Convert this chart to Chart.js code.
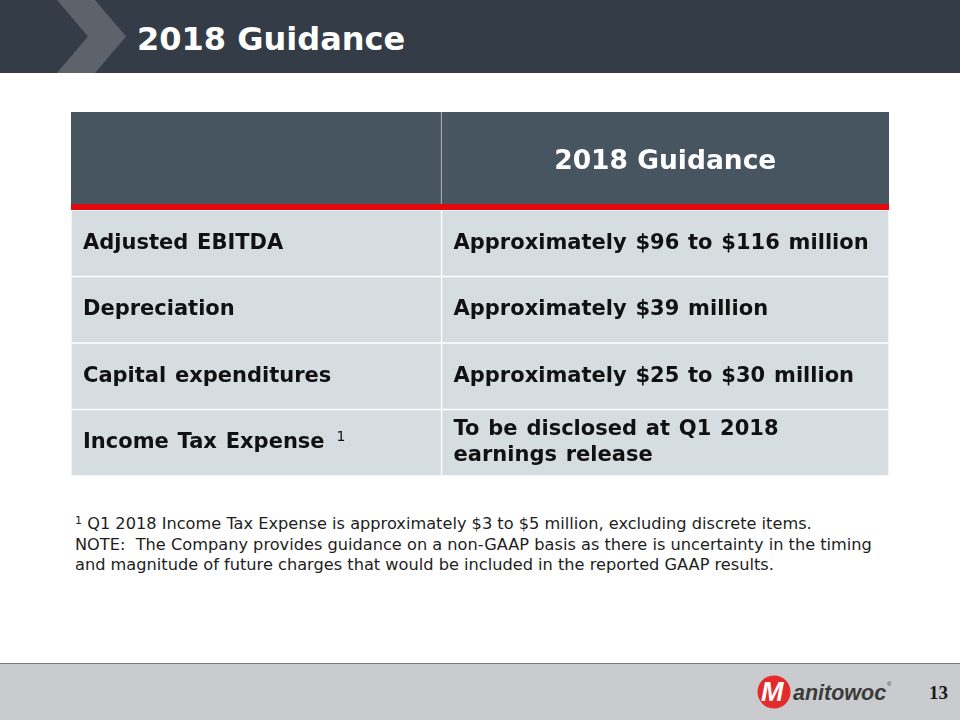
<!DOCTYPE html>
<html>
<head>
<meta charset="utf-8">
<script src="https://cdn.jsdelivr.net/npm/chart.js@4"></script>
<style>
  html, body { margin: 0; padding: 0; background: #ffffff; }
  #slide { position: relative; width: 960px; height: 720px; overflow: hidden; background: #ffffff; font-family: "DejaVu Sans", Verdana, sans-serif; }
  #topbar { position: absolute; left: 0; top: 0; width: 960px; height: 73px; background: #343d47; }
  #chev { position: absolute; left: 0; top: 0; width: 140px; height: 73px; background: #5e626b;
          clip-path: polygon(57px 0, 95px 0, 126px 36.5px, 95px 73px, 57px 73px, 88px 36.5px); }
  #title { position: absolute; left: 137px; top: 17px; color: #ffffff; font-weight: bold; font-size: 32px; line-height: 44px; white-space: nowrap; }
  #headCanvas { position: absolute; left: 71px; top: 112px; }
  #bodyCanvas { position: absolute; left: 71px; top: 210px; }
  #notes { position: absolute; left: 75px; top: 514px; font-size: 16.2px; line-height: 20.5px; color: #1e1e1e; white-space: nowrap; }
  #notes sup { font-size: 11px; vertical-align: 5px; line-height: 0; }
  #footer { position: absolute; left: 0; top: 663px; width: 960px; height: 57px; background: #c9cbce; border-top: 1px solid #757a80; }
  #pagenum { position: absolute; left: 929px; top: 682px; font-family: "Liberation Serif", "DejaVu Serif", serif; font-weight: bold; font-size: 19px; color: #1a1a1a; }
  #logo { position: absolute; left: 750px; top: 672px; }
</style>
</head>
<body>
<div id="slide">
  <div id="topbar"></div>
  <div id="chev"></div>
  <div id="title">2018 Guidance</div>

  <canvas id="headCanvas" width="818" height="98"></canvas>
  <canvas id="bodyCanvas" width="818" height="266"></canvas>

  <div id="notes">
    <div><sup>1</sup> Q1 2018 Income Tax Expense is approximately $3 to $5 million, excluding discrete items.</div>
    <div>NOTE:&nbsp; The Company provides guidance on a non-GAAP basis as there is uncertainty in the timing</div>
    <div>and magnitude of future charges that would be included in the reported GAAP results.</div>
  </div>

  <div id="footer"></div>
  <svg id="logo" width="150" height="40" viewBox="0 0 150 40">
    <circle cx="24" cy="20" r="16.5" fill="#e42a2a"/>
    <text x="11" y="29" font-family="Liberation Sans, Arial, sans-serif" font-weight="bold" font-style="italic" font-size="27" fill="#ffffff">M</text>
    <text x="43" y="28" font-family="Liberation Sans, Arial, sans-serif" font-weight="bold" font-style="italic" font-size="21.5" fill="#3b3b3b">anitowoc</text>
    <text x="137" y="14" font-family="Liberation Sans, Arial, sans-serif" font-size="6" fill="#3b3b3b">®</text>
  </svg>
  <div id="pagenum">13</div>
</div>

<script>
// ---- table content ----
const columnHeaders = ["", "2018 Guidance"];
const rowLabels = ["Adjusted EBITDA", "Depreciation", "Capital expenditures", "Income Tax Expense"];
const rowNotes = ["", "", "", "1"];
const guidanceValues = [
  "Approximately $96 to $116 million",
  "Approximately $39 million",
  "Approximately $25 to $30 million",
  "To be disclosed at Q1 2018\nearnings release"
];
// column extents in table units (0..100)
const columnSpans = [[0, 45.3], [45.3, 100]];

const TEXT_FONT = '"DejaVu Sans", Verdana, sans-serif';

const headerTextPlugin = {
  id: 'headerText',
  afterDatasetsDraw(chart) {
    const ctx = chart.ctx;
    const area = chart.chartArea;
    ctx.save();
    // red rule under header row
    ctx.fillStyle = '#e3090f';
    ctx.fillRect(area.left, area.bottom - 6, area.right - area.left, 6);
    ctx.fillStyle = '#ffffff';
    ctx.font = 'bold 26.5px ' + TEXT_FONT;
    ctx.textAlign = 'center';
    ctx.textBaseline = 'middle';
    chart.data.datasets.forEach((ds, di) => {
      const el = chart.getDatasetMeta(di).data[0];
      const txt = columnHeaders[di];
      if (txt) ctx.fillText(txt, (el.x + el.base) / 2, el.y + 1);
    });
    ctx.restore();
  }
};

const bodyTextPlugin = {
  id: 'bodyText',
  afterDatasetsDraw(chart) {
    const ctx = chart.ctx;
    ctx.save();
    ctx.fillStyle = '#111111';
    ctx.textBaseline = 'middle';
    ctx.textAlign = 'left';
    if ('wordSpacing' in ctx) ctx.wordSpacing = '1.5px';
    const m0 = chart.getDatasetMeta(0).data;
    const m1 = chart.getDatasetMeta(1).data;
    rowLabels.forEach((lab, i) => {
      const a = m0[i], b = m1[i];
      ctx.font = 'bold 21px ' + TEXT_FONT;
      const lx = Math.min(a.x, a.base) + 12;
      ctx.fillText(lab, lx, a.y);
      if (rowNotes[i]) {
        const w = ctx.measureText(lab).width;
        ctx.font = '14px ' + TEXT_FONT;
        ctx.fillText(rowNotes[i], lx + w + 12, a.y - 5);
      }
      ctx.font = 'bold 21px ' + TEXT_FONT;
      const vx = Math.min(b.x, b.base) + 12;
      const lines = guidanceValues[i].split('\n');
      const lh = 26;
      lines.forEach((ln, k) => {
        ctx.fillText(ln, vx, b.y + (k - (lines.length - 1) / 2) * lh);
      });
    });
    ctx.restore();
  }
};

const commonOpts = {
  indexAxis: 'y',
  responsive: false,
  animation: false,
  devicePixelRatio: 1,
  layout: { padding: 0 },
  plugins: { legend: { display: false }, tooltip: { enabled: false } },
  scales: {
    x: { type: 'linear', min: 0, max: 100, display: false },
    y: { display: false }
  }
};

new Chart(document.getElementById('headCanvas'), {
  type: 'bar',
  data: {
    labels: ['header'],
    datasets: columnHeaders.map((h, ci) => ({
      label: 'col' + ci,
      data: [columnSpans[ci]],
      backgroundColor: '#475561',
      borderColor: '#a7afb5',
      borderWidth: ci === 0 ? { right: 1, left: 0, top: 0, bottom: 0 } : 0,
      borderSkipped: false,
      grouped: false,
      barPercentage: 1,
      categoryPercentage: 1
    }))
  },
  options: commonOpts,
  plugins: [headerTextPlugin]
});

new Chart(document.getElementById('bodyCanvas'), {
  type: 'bar',
  data: {
    labels: rowLabels,
    datasets: [0, 1].map(ci => ({
      label: 'col' + ci,
      data: rowLabels.map(() => columnSpans[ci]),
      backgroundColor: '#d6dde1',
      borderColor: '#ffffff',
      borderWidth: 1,
      borderSkipped: false,
      grouped: false,
      barPercentage: 1,
      categoryPercentage: 1
    }))
  },
  options: commonOpts,
  plugins: [bodyTextPlugin]
});
</script>
</body>
</html>
